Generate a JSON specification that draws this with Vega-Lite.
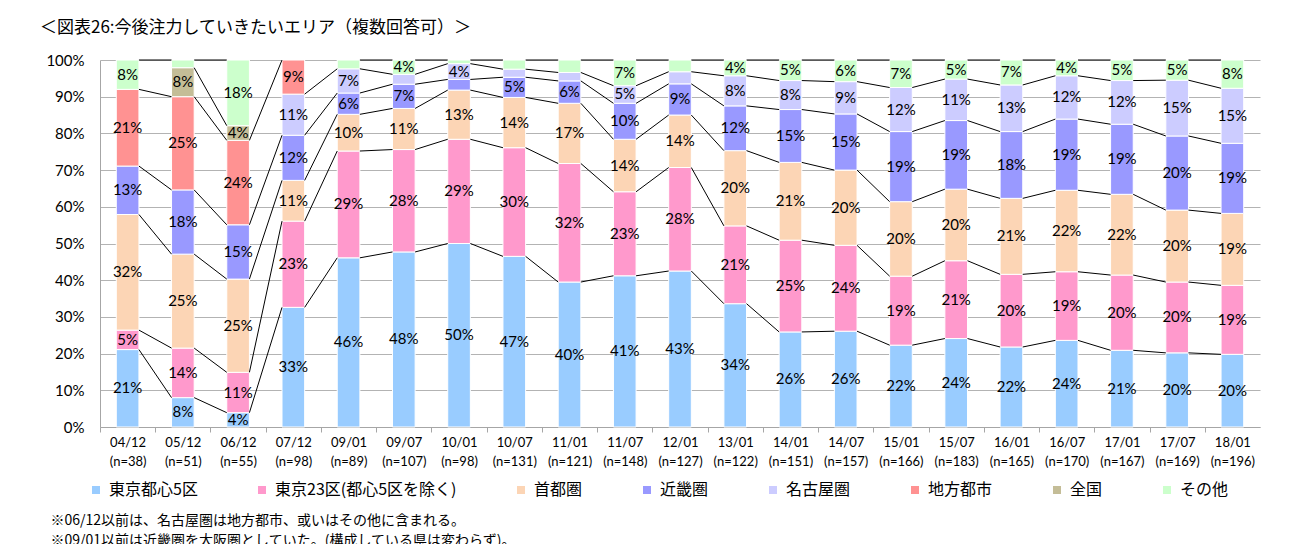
{
  "$schema": "https://vega.github.io/schema/vega-lite/v6.json",
  "width": 1160,
  "height": 367,
  "autosize": {"type": "none"},
  "padding": {"left": 100, "top": 60, "right": 35, "bottom": 117},
  "background": "white",
  "config": {"view": {"stroke": null}},
  "title": {
    "text": "＜図表26:今後注力していきたいエリア（複数回答可）＞",
    "anchor": "start", "frame": "group", "dx": -60, "offset": 16,
    "fontSize": 17, "fontWeight": "normal", "font": "Noto Sans CJK JP", "color": "#000"
  },
  "data": {"values": [
    {"c": "04/12 (n=38)", "s": "東京都心5区", "v": 21.1, "l": "21%"},
    {"c": "04/12 (n=38)", "s": "東京23区(都心5区を除く)", "v": 5.3, "l": "5%"},
    {"c": "04/12 (n=38)", "s": "首都圏", "v": 31.5, "l": "32%"},
    {"c": "04/12 (n=38)", "s": "近畿圏", "v": 13.2, "l": "13%"},
    {"c": "04/12 (n=38)", "s": "地方都市", "v": 20.9, "l": "21%"},
    {"c": "04/12 (n=38)", "s": "その他", "v": 8.0, "l": "8%"},

    {"c": "05/12 (n=51)", "s": "東京都心5区", "v": 8.0, "l": "8%"},
    {"c": "05/12 (n=51)", "s": "東京23区(都心5区を除く)", "v": 13.5, "l": "14%"},
    {"c": "05/12 (n=51)", "s": "首都圏", "v": 25.6, "l": "25%"},
    {"c": "05/12 (n=51)", "s": "近畿圏", "v": 17.5, "l": "18%"},
    {"c": "05/12 (n=51)", "s": "地方都市", "v": 25.4, "l": "25%"},
    {"c": "05/12 (n=51)", "s": "全国", "v": 7.9, "l": "8%"},
    {"c": "05/12 (n=51)", "s": "その他", "v": 2.1},

    {"c": "06/12 (n=55)", "s": "東京都心5区", "v": 3.9, "l": "4%"},
    {"c": "06/12 (n=55)", "s": "東京23区(都心5区を除く)", "v": 11.0, "l": "11%"},
    {"c": "06/12 (n=55)", "s": "首都圏", "v": 25.4, "l": "25%"},
    {"c": "06/12 (n=55)", "s": "近畿圏", "v": 14.8, "l": "15%"},
    {"c": "06/12 (n=55)", "s": "地方都市", "v": 23.0, "l": "24%"},
    {"c": "06/12 (n=55)", "s": "全国", "v": 4.0, "l": "4%"},
    {"c": "06/12 (n=55)", "s": "その他", "v": 17.9, "l": "18%"},

    {"c": "07/12 (n=98)", "s": "東京都心5区", "v": 32.6, "l": "33%"},
    {"c": "07/12 (n=98)", "s": "東京23区(都心5区を除く)", "v": 23.5, "l": "23%"},
    {"c": "07/12 (n=98)", "s": "首都圏", "v": 11.1, "l": "11%"},
    {"c": "07/12 (n=98)", "s": "近畿圏", "v": 12.3, "l": "12%"},
    {"c": "07/12 (n=98)", "s": "名古屋圏", "v": 11.2, "l": "11%"},
    {"c": "07/12 (n=98)", "s": "地方都市", "v": 9.3, "l": "9%"},

    {"c": "09/01 (n=89)", "s": "東京都心5区", "v": 46.1, "l": "46%"},
    {"c": "09/01 (n=89)", "s": "東京23区(都心5区を除く)", "v": 29.1, "l": "29%"},
    {"c": "09/01 (n=89)", "s": "首都圏", "v": 10.0, "l": "10%"},
    {"c": "09/01 (n=89)", "s": "近畿圏", "v": 5.8, "l": "6%"},
    {"c": "09/01 (n=89)", "s": "名古屋圏", "v": 6.6, "l": "7%"},
    {"c": "09/01 (n=89)", "s": "その他", "v": 2.4},

    {"c": "09/07 (n=107)", "s": "東京都心5区", "v": 47.7, "l": "48%"},
    {"c": "09/07 (n=107)", "s": "東京23区(都心5区を除く)", "v": 27.9, "l": "28%"},
    {"c": "09/07 (n=107)", "s": "首都圏", "v": 11.2, "l": "11%"},
    {"c": "09/07 (n=107)", "s": "近畿圏", "v": 6.6, "l": "7%"},
    {"c": "09/07 (n=107)", "s": "名古屋圏", "v": 2.7},
    {"c": "09/07 (n=107)", "s": "その他", "v": 3.9, "l": "4%"},

    {"c": "10/01 (n=98)", "s": "東京都心5区", "v": 50.0, "l": "50%"},
    {"c": "10/01 (n=98)", "s": "東京23区(都心5区を除く)", "v": 28.4, "l": "29%"},
    {"c": "10/01 (n=98)", "s": "首都圏", "v": 13.4, "l": "13%"},
    {"c": "10/01 (n=98)", "s": "近畿圏", "v": 2.9},
    {"c": "10/01 (n=98)", "s": "名古屋圏", "v": 4.3, "l": "4%"},
    {"c": "10/01 (n=98)", "s": "その他", "v": 1.0},

    {"c": "10/07 (n=131)", "s": "東京都心5区", "v": 46.5, "l": "47%"},
    {"c": "10/07 (n=131)", "s": "東京23区(都心5区を除く)", "v": 29.6, "l": "30%"},
    {"c": "10/07 (n=131)", "s": "首都圏", "v": 13.7, "l": "14%"},
    {"c": "10/07 (n=131)", "s": "近畿圏", "v": 5.5, "l": "5%"},
    {"c": "10/07 (n=131)", "s": "名古屋圏", "v": 2.2},
    {"c": "10/07 (n=131)", "s": "その他", "v": 2.5},

    {"c": "11/01 (n=121)", "s": "東京都心5区", "v": 39.5, "l": "40%"},
    {"c": "11/01 (n=121)", "s": "東京23区(都心5区を除く)", "v": 32.3, "l": "32%"},
    {"c": "11/01 (n=121)", "s": "首都圏", "v": 16.4, "l": "17%"},
    {"c": "11/01 (n=121)", "s": "近畿圏", "v": 6.1, "l": "6%"},
    {"c": "11/01 (n=121)", "s": "名古屋圏", "v": 2.3},
    {"c": "11/01 (n=121)", "s": "その他", "v": 3.4},

    {"c": "11/07 (n=148)", "s": "東京都心5区", "v": 41.2, "l": "41%"},
    {"c": "11/07 (n=148)", "s": "東京23区(都心5区を除く)", "v": 22.9, "l": "23%"},
    {"c": "11/07 (n=148)", "s": "首都圏", "v": 14.3, "l": "14%"},
    {"c": "11/07 (n=148)", "s": "近畿圏", "v": 9.8, "l": "10%"},
    {"c": "11/07 (n=148)", "s": "名古屋圏", "v": 4.8, "l": "5%"},
    {"c": "11/07 (n=148)", "s": "その他", "v": 7.0, "l": "7%"},

    {"c": "12/01 (n=127)", "s": "東京都心5区", "v": 42.5, "l": "43%"},
    {"c": "12/01 (n=127)", "s": "東京23区(都心5区を除く)", "v": 28.2, "l": "28%"},
    {"c": "12/01 (n=127)", "s": "首都圏", "v": 14.3, "l": "14%"},
    {"c": "12/01 (n=127)", "s": "近畿圏", "v": 8.5, "l": "9%"},
    {"c": "12/01 (n=127)", "s": "名古屋圏", "v": 3.3},
    {"c": "12/01 (n=127)", "s": "その他", "v": 3.2},

    {"c": "13/01 (n=122)", "s": "東京都心5区", "v": 33.6, "l": "34%"},
    {"c": "13/01 (n=122)", "s": "東京23区(都心5区を除く)", "v": 21.2, "l": "21%"},
    {"c": "13/01 (n=122)", "s": "首都圏", "v": 20.5, "l": "20%"},
    {"c": "13/01 (n=122)", "s": "近畿圏", "v": 12.2, "l": "12%"},
    {"c": "13/01 (n=122)", "s": "名古屋圏", "v": 8.2, "l": "8%"},
    {"c": "13/01 (n=122)", "s": "その他", "v": 4.3, "l": "4%"},

    {"c": "14/01 (n=151)", "s": "東京都心5区", "v": 25.9, "l": "26%"},
    {"c": "14/01 (n=151)", "s": "東京23区(都心5区を除く)", "v": 25.0, "l": "25%"},
    {"c": "14/01 (n=151)", "s": "首都圏", "v": 21.2, "l": "21%"},
    {"c": "14/01 (n=151)", "s": "近畿圏", "v": 14.4, "l": "15%"},
    {"c": "14/01 (n=151)", "s": "名古屋圏", "v": 7.9, "l": "8%"},
    {"c": "14/01 (n=151)", "s": "その他", "v": 5.6, "l": "5%"},

    {"c": "14/07 (n=157)", "s": "東京都心5区", "v": 26.1, "l": "26%"},
    {"c": "14/07 (n=157)", "s": "東京23区(都心5区を除く)", "v": 23.4, "l": "24%"},
    {"c": "14/07 (n=157)", "s": "首都圏", "v": 20.5, "l": "20%"},
    {"c": "14/07 (n=157)", "s": "近畿圏", "v": 15.3, "l": "15%"},
    {"c": "14/07 (n=157)", "s": "名古屋圏", "v": 8.8, "l": "9%"},
    {"c": "14/07 (n=157)", "s": "その他", "v": 5.9, "l": "6%"},

    {"c": "15/01 (n=166)", "s": "東京都心5区", "v": 22.3, "l": "22%"},
    {"c": "15/01 (n=166)", "s": "東京23区(都心5区を除く)", "v": 18.8, "l": "19%"},
    {"c": "15/01 (n=166)", "s": "首都圏", "v": 20.3, "l": "20%"},
    {"c": "15/01 (n=166)", "s": "近畿圏", "v": 19.1, "l": "19%"},
    {"c": "15/01 (n=166)", "s": "名古屋圏", "v": 12.0, "l": "12%"},
    {"c": "15/01 (n=166)", "s": "その他", "v": 7.5, "l": "7%"},

    {"c": "15/07 (n=183)", "s": "東京都心5区", "v": 24.1, "l": "24%"},
    {"c": "15/07 (n=183)", "s": "東京23区(都心5区を除く)", "v": 21.2, "l": "21%"},
    {"c": "15/07 (n=183)", "s": "首都圏", "v": 19.5, "l": "20%"},
    {"c": "15/07 (n=183)", "s": "近畿圏", "v": 18.7, "l": "19%"},
    {"c": "15/07 (n=183)", "s": "名古屋圏", "v": 11.3, "l": "11%"},
    {"c": "15/07 (n=183)", "s": "その他", "v": 5.2, "l": "5%"},

    {"c": "16/01 (n=165)", "s": "東京都心5区", "v": 21.8, "l": "22%"},
    {"c": "16/01 (n=165)", "s": "東京23区(都心5区を除く)", "v": 19.8, "l": "20%"},
    {"c": "16/01 (n=165)", "s": "首都圏", "v": 20.7, "l": "21%"},
    {"c": "16/01 (n=165)", "s": "近畿圏", "v": 18.2, "l": "18%"},
    {"c": "16/01 (n=165)", "s": "名古屋圏", "v": 12.7, "l": "13%"},
    {"c": "16/01 (n=165)", "s": "その他", "v": 6.8, "l": "7%"},

    {"c": "16/07 (n=170)", "s": "東京都心5区", "v": 23.6, "l": "24%"},
    {"c": "16/07 (n=170)", "s": "東京23区(都心5区を除く)", "v": 18.7, "l": "19%"},
    {"c": "16/07 (n=170)", "s": "首都圏", "v": 22.2, "l": "22%"},
    {"c": "16/07 (n=170)", "s": "近畿圏", "v": 19.4, "l": "19%"},
    {"c": "16/07 (n=170)", "s": "名古屋圏", "v": 11.8, "l": "12%"},
    {"c": "16/07 (n=170)", "s": "その他", "v": 4.3, "l": "4%"},

    {"c": "17/01 (n=167)", "s": "東京都心5区", "v": 20.9, "l": "21%"},
    {"c": "17/01 (n=167)", "s": "東京23区(都心5区を除く)", "v": 20.5, "l": "20%"},
    {"c": "17/01 (n=167)", "s": "首都圏", "v": 22.0, "l": "22%"},
    {"c": "17/01 (n=167)", "s": "近畿圏", "v": 19.1, "l": "19%"},
    {"c": "17/01 (n=167)", "s": "名古屋圏", "v": 11.9, "l": "12%"},
    {"c": "17/01 (n=167)", "s": "その他", "v": 5.6, "l": "5%"},

    {"c": "17/07 (n=169)", "s": "東京都心5区", "v": 20.2, "l": "20%"},
    {"c": "17/07 (n=169)", "s": "東京23区(都心5区を除く)", "v": 19.3, "l": "20%"},
    {"c": "17/07 (n=169)", "s": "首都圏", "v": 19.6, "l": "20%"},
    {"c": "17/07 (n=169)", "s": "近畿圏", "v": 20.2, "l": "20%"},
    {"c": "17/07 (n=169)", "s": "名古屋圏", "v": 15.2, "l": "15%"},
    {"c": "17/07 (n=169)", "s": "その他", "v": 5.5, "l": "5%"},

    {"c": "18/01 (n=196)", "s": "東京都心5区", "v": 19.8, "l": "20%"},
    {"c": "18/01 (n=196)", "s": "東京23区(都心5区を除く)", "v": 18.8, "l": "19%"},
    {"c": "18/01 (n=196)", "s": "首都圏", "v": 19.6, "l": "19%"},
    {"c": "18/01 (n=196)", "s": "近畿圏", "v": 19.1, "l": "19%"},
    {"c": "18/01 (n=196)", "s": "名古屋圏", "v": 15.0, "l": "15%"},
    {"c": "18/01 (n=196)", "s": "その他", "v": 7.7, "l": "8%"}
  ]},
  "transform": [
    {"stack": "v", "groupby": ["c"], "as": ["y0", "y1"]}
  ],
  "layer": [
    {
      "mark": {"type": "bar", "stroke": "white", "strokeWidth": 1},
      "encoding": {
        "x": {
          "field": "c", "type": "nominal", "sort": "ascending",
          "scale": {"type": "band", "paddingInner": 0.59, "paddingOuter": 0.295},
          "axis": {
            "title": ["※06/12以前は、名古屋圏は地方都市、或いはその他に含まれる。", "※09/01以前は近畿圏を大阪圏としていた。(構成している県は変わらず)。"],
            "titleX": -50, "titleY": 86, "titleAlign": "left", "titleAngle": 0,
            "titleBaseline": "top", "titleFontSize": 14, "titleFontWeight": "normal",
            "titleFont": "Noto Sans CJK JP", "titleColor": "#000", "titleLineHeight": 20,
            "labelExpr": "isValid(datum.value) ? split(datum.value, ' ') : ''", "labelAngle": 0,
            "labelFontSize": 13, "labelFont": "Lato, 'Noto Sans CJK JP'", "labelColor": "#000",
            "labelLineHeight": 19, "labelPadding": 4,
            "tickOffset": -27.62, "labelOffset": 27.62, "tickSize": 5, "tickColor": "#A6A6A6",
            "domainColor": "#A6A6A6", "grid": false
          }
        },
        "y": {
          "field": "y0", "type": "quantitative",
          "scale": {"domain": [0, 100], "nice": false},
          "axis": {
            "title": null, "values": [0, 10, 20, 30, 40, 50, 60, 70, 80, 90, 100], "tickCount": 20,
            "labelExpr": "datum.value + '%'", "labelFontSize": 15, "labelFont": "Lato",
            "labelColor": "#000", "labelPadding": 16, "ticks": false, "labelOverlap": false,
            "labelFlush": false,
            "domainColor": "#A6A6A6", "gridColor": "#B3B3B3", "grid": true
          }
        },
        "y2": {"field": "y1"},
        "color": {
          "field": "s", "type": "nominal",
          "scale": {
            "domain": ["東京都心5区", "東京23区(都心5区を除く)", "首都圏", "近畿圏", "名古屋圏", "地方都市", "全国", "その他"],
            "range": ["#99CCFF", "#FF99CC", "#FCD5B5", "#9999FF", "#CCCCFF", "#FF9292", "#C4BD97", "#CCFFCC"]
          },
          "legend": {
            "orient": "none", "legendX": -12, "legendY": 422, "direction": "horizontal",
            "columns": 8, "columnPadding": 56, "title": null,
            "symbolType": "square", "symbolSize": 64, "symbolStrokeWidth": 0,
            "labelFontSize": 16, "labelFont": "Noto Sans CJK JP", "labelColor": "#000",
            "labelOffset": 5, "labelLimit": 300
          }
        }
      }
    },
    {
      "transform": [
        {"window": [{"op": "dense_rank", "as": "r"}], "sort": [{"field": "c"}]},
        {"window": [
          {"op": "lead", "field": "c", "as": "nc"},
          {"op": "lead", "field": "y1", "as": "ny"},
          {"op": "lead", "field": "r", "as": "nr"}
        ], "groupby": ["s"], "sort": [{"field": "c"}]},
        {"filter": "datum.nr === datum.r + 1"}
      ],
      "mark": {"type": "rule", "color": "#000", "strokeWidth": 1},
      "encoding": {
        "x": {"field": "c", "type": "nominal", "bandPosition": 1},
        "x2": {"field": "nc", "bandPosition": 0},
        "y": {"field": "y1", "type": "quantitative"},
        "y2": {"field": "ny"}
      }
    },
    {
      "transform": [
        {"filter": "isValid(datum.l)"},
        {"calculate": "(datum.y0 + datum.y1) / 2", "as": "m"}
      ],
      "mark": {"type": "text", "fontSize": 15, "font": "Lato", "color": "#000", "baseline": "middle"},
      "encoding": {
        "x": {"field": "c", "type": "nominal"},
        "y": {"field": "m", "type": "quantitative"},
        "text": {"field": "l", "type": "nominal"}
      }
    }
  ]
}
